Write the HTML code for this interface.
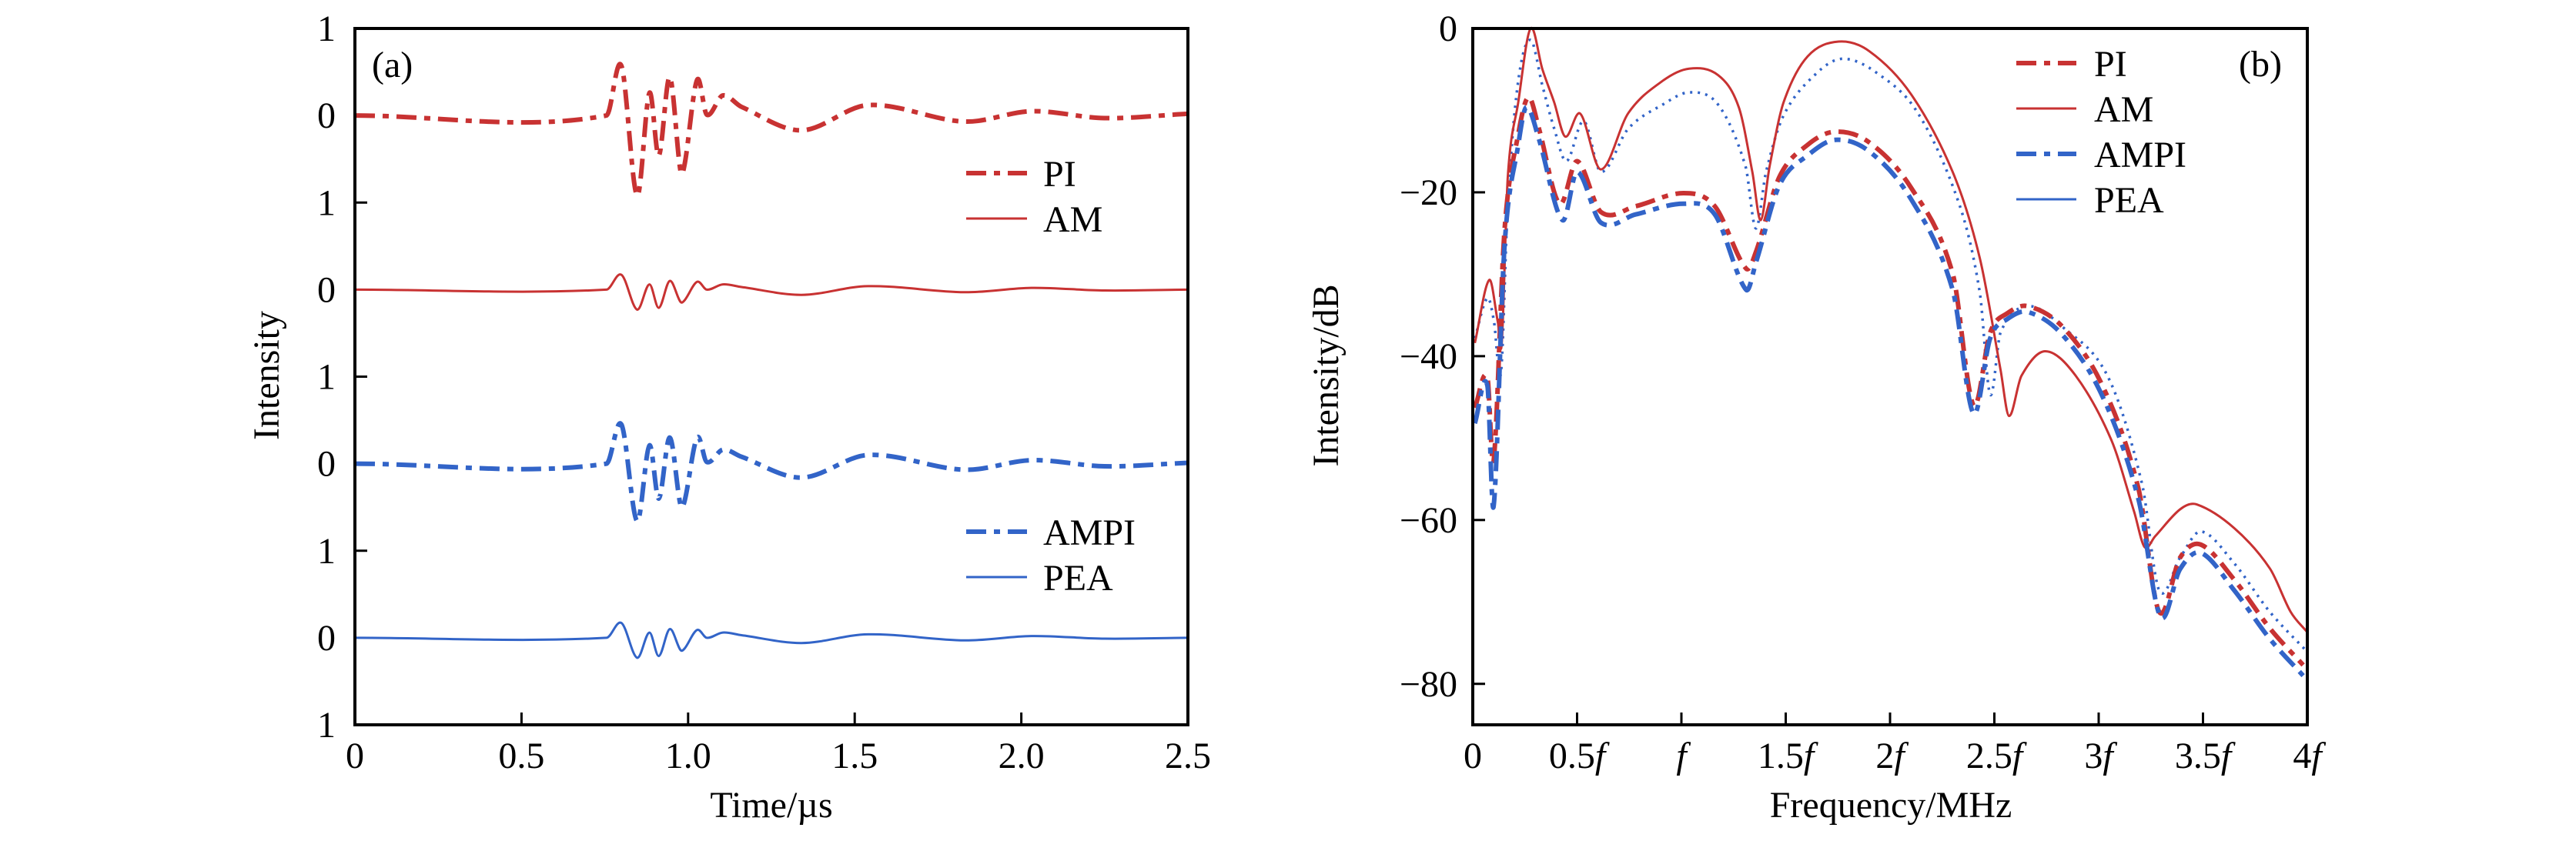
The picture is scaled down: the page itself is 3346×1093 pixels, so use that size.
<!DOCTYPE html>
<html><head><meta charset="utf-8"><style>
html,body{margin:0;padding:0;background:#fff}
svg{display:block}
text{font-family:"Liberation Serif",serif;fill:#000}
</style></head><body>
<svg id="fig" width="3346" height="1093" viewBox="0 0 3346 1093" xmlns="http://www.w3.org/2000/svg"></svg>
<script>
// ---- Panel (a) data: time (µs) and intensities (units of one tick interval)
const timeA = [0,0.755,0.80,0.847,0.884,0.912,0.945,0.977,0.99,1.027,1.056,1.104,1.16,1.34,1.54,1.83,2.03,2.25,2.5];
const piA   = [0,0,0.57,-0.92,0.26,-0.46,0.44,-0.63,-0.55,0.41,0.01,0.23,0.10,-0.17,0.12,-0.07,0.05,-0.03,0.02];
const amA   = [0,0,0.17,-0.23,0.06,-0.21,0.10,-0.14,-0.12,0.09,0.0,0.06,0.03,-0.06,0.04,-0.03,0.02,-0.01,0.0];
const ampiA = [0,0,0.45,-0.66,0.21,-0.40,0.30,-0.47,-0.42,0.30,0.02,0.16,0.08,-0.16,0.10,-0.07,0.04,-0.03,0.01];
const peaA  = [0,0,0.17,-0.23,0.06,-0.21,0.10,-0.14,-0.12,0.09,0.0,0.06,0.03,-0.06,0.04,-0.03,0.02,-0.01,0.0];
const yTickLabelsA = ["1","0","1","0","1","0","1","0","1"];
const xTicksA = [0,0.5,1.0,1.5,2.0,2.5];
const xTickLabelsA = ["0","0.5","1.0","1.5","2.0","2.5"];
// ---- Panel (b) data: frequency (units of f) and dB
const amF = [0.01,0.079,0.12,0.139,0.168,0.218,0.277,0.334,0.39,0.443,0.515,0.614,0.746,0.91,1.037,1.176,1.275,1.34,1.38,1.423,1.49,1.605,1.754,1.902,2.1,2.3,2.43,2.53,2.57,2.63,2.744,2.89,3.06,3.17,3.22,3.27,3.39,3.47,3.65,3.82,3.92,4.0];
const amDB = [-38.4,-30.7,-35.8,-38.4,-18.1,-9,0,-5,-9,-13.2,-10.4,-17.2,-10.3,-6.4,-4.9,-5.7,-9.6,-17.5,-23.4,-16.8,-9,-3.4,-1.6,-2.8,-8,-17.5,-28,-41.7,-47.3,-42.4,-39.4,-42.4,-50.2,-59,-63.3,-62,-58.7,-58.1,-61,-65.9,-71.2,-73.7];
const piF = [0.01,0.07,0.10,0.152,0.218,0.267,0.317,0.416,0.5,0.614,0.78,1.01,1.16,1.31,1.357,1.47,1.605,1.737,1.9,2.1,2.3,2.4,2.48,2.56,2.66,2.83,3.02,3.19,3.29,3.39,3.49,3.65,3.82,3.98];
const piDB = [-46.3,-42.6,-52.8,-24.7,-12.9,-8.4,-12.2,-21.4,-16.2,-22.4,-21.7,-20.1,-21.7,-29.3,-27.3,-18.1,-14.2,-12.6,-13.9,-19.4,-29.9,-46,-37.1,-34.8,-33.9,-36.5,-43.7,-56.1,-71.2,-64.6,-63,-67.3,-73.2,-77.7];
const ampiF = [0.01,0.07,0.10,0.152,0.218,0.257,0.317,0.43,0.5,0.614,0.78,1.01,1.16,1.31,1.357,1.47,1.605,1.737,1.9,2.1,2.3,2.4,2.48,2.56,2.66,2.83,3.02,3.19,3.296,3.39,3.49,3.65,3.82,3.98];
const ampiDB = [-48.2,-43.6,-58.3,-26.6,-14.2,-9.6,-13.5,-23.4,-17.5,-23.7,-22.7,-21.4,-22.7,-31.9,-28.6,-19.1,-15.5,-13.6,-15,-20.8,-31.9,-47,-37.8,-35.5,-34.6,-37.5,-45,-57.4,-71.8,-66,-64,-68.6,-74.5,-79];
const peaF = [0.01,0.07,0.102,0.135,0.168,0.218,0.277,0.334,0.39,0.449,0.532,0.614,0.746,0.91,1.04,1.176,1.307,1.357,1.406,1.49,1.638,1.77,1.935,2.133,2.331,2.43,2.48,2.53,2.66,2.83,3.042,3.207,3.29,3.39,3.49,3.65,3.82,4.0];
const peaDB = [-37.8,-32.9,-35.8,-42,-21.4,-6.4,-1.4,-7,-12.2,-16.2,-11.3,-17.5,-12.2,-9.3,-7.8,-9.3,-16.8,-24.4,-17.5,-10.6,-5.7,-3.7,-5.4,-10.3,-21.4,-32.2,-44.7,-37.1,-33.9,-36.5,-42.4,-55.5,-68.6,-64.6,-61.4,-65.3,-71.2,-76.1];
const yTicksB = [0,-20,-40,-60,-80];
const yTickLabelsB = ["0","\u221220","\u221240","\u221260","\u221280"];
const xTicksB = [0,0.5,1,1.5,2,2.5,3,3.5,4];
const xTickLabelsB = ["0","0.5<i>f</i>","<i>f</i>","1.5<i>f</i>","2<i>f</i>","2.5<i>f</i>","3<i>f</i>","3.5<i>f</i>","4<i>f</i>"];

const NS="http://www.w3.org/2000/svg";
const svg=document.getElementById('fig');
const RED="#c83232", BLUE="#3264c8";
function mk(tag,attrs,parent){const e=document.createElementNS(NS,tag);for(const k in attrs)e.setAttribute(k,attrs[k]);(parent||svg).appendChild(e);return e;}
function smooth(pts){let d="M"+pts[0][0].toFixed(1)+","+pts[0][1].toFixed(1);
 for(let i=0;i<pts.length-1;i++){const p0=pts[Math.max(0,i-1)],p1=pts[i],p2=pts[i+1],p3=pts[Math.min(pts.length-1,i+2)];
  const dx=p2[0]-p1[0];
  let s1=(p2[1]-p0[1])/Math.max(1e-6,p2[0]-p0[0]), s2=(p3[1]-p1[1])/Math.max(1e-6,p3[0]-p1[0]);
  const c1=[p1[0]+dx/3,p1[1]+s1*dx/3],c2=[p2[0]-dx/3,p2[1]-s2*dx/3];
  d+=" C"+c1[0].toFixed(1)+","+c1[1].toFixed(1)+" "+c2[0].toFixed(1)+","+c2[1].toFixed(1)+" "+p2[0].toFixed(1)+","+p2[1].toFixed(1);}
 return d;}
const DASHDOT="26 10 8 10";

// ---------- Panel A ----------
const A={x0:461,x1:1543,y0:37,y1:942};
const xA=t=>A.x0+(t/2.5)*(A.x1-A.x0);
const stepA=(A.y1-A.y0)/8;
const yA=(base,v)=>A.y0+base*stepA-v*stepA;
const gA=mk('g',{});


const seriesA=[[piA,1,RED,6,DASHDOT,'pi-trace'],[amA,3,RED,3,'', 'am-trace'],[ampiA,5,BLUE,6,DASHDOT,'ampi-trace'],[peaA,7,BLUE,3,'','pea-trace']];
seriesA.forEach(s=>{const pts=timeA.map((t,i)=>[xA(t),yA(s[1],s[0][i])]);
 const p=mk('path',{d:smooth(pts),fill:'none',stroke:s[2],'stroke-width':s[3],'stroke-dasharray':s[4]||'none'},gA);
 
 });
mk('rect',{x:A.x0,y:A.y0,width:A.x1-A.x0,height:A.y1-A.y0,fill:'none',stroke:'#000','stroke-width':4},gA);
yTickLabelsA.forEach((l,i)=>{const y=A.y0+i*stepA;
 if(l==="1"&&i>0&&i<8) mk('line',{x1:A.x0,x2:A.x0+16,y1:y,y2:y,stroke:'#000','stroke-width':3},gA);
 const t=mk('text',{x:436,y:y+16,'font-size':48,'text-anchor':'end'},gA);t.textContent=l;
 
 });
xTicksA.forEach((v,i)=>{const x=xA(v);
 if(i>0&&i<xTicksA.length-1) mk('line',{x1:x,x2:x,y1:A.y1,y2:A.y1-16,stroke:'#000','stroke-width':3},gA);
 const t=mk('text',{x:x,y:998,'font-size':48,'text-anchor':'middle'},gA);t.textContent=xTickLabelsA[i];
 
 });
// legend a
[[225,'PI',RED,6,DASHDOT],[284,'AM',RED,3,''],[691,'AMPI',BLUE,6,DASHDOT],[750,'PEA',BLUE,3,'']].forEach(e=>{
 const g=mk('g',{},gA);
 
 
 mk('line',{x1:1255,x2:1334,y1:e[0],y2:e[0],stroke:e[2],'stroke-width':e[3],'stroke-dasharray':e[4]||'none'},g);
 const t=mk('text',{x:1355,y:e[0]+17,'font-size':48},g);t.textContent=e[1];});
let t=mk('text',{x:483,y:100,'font-size':48},gA);t.textContent='(a)';


t=mk('text',{x:0,y:0,'font-size':48,'text-anchor':'middle',transform:'translate(362,488) rotate(-90)'},gA);t.textContent='Intensity';


t=mk('text',{x:1002,y:1062,'font-size':48,'text-anchor':'middle'},gA);t.textContent='Time/\u00b5s';



// ---------- Panel B ----------
const B={x0:1913,x1:2997,y0:37,y1:942};
const xB=f=>B.x0+(f/4)*(B.x1-B.x0);
const yB=d=>B.y0+(-d/85)*(B.y1-B.y0);
const gB=mk('g',{});


const clip=mk('clipPath',{id:'cb'},gB);mk('rect',{x:B.x0,y:B.y0-4,width:B.x1-B.x0,height:B.y1-B.y0+4},clip);
const seriesB=[[peaF,peaDB,BLUE,3.5,'3 7','pea-spectrum'],[amF,amDB,RED,3,'','am-spectrum'],[piF,piDB,RED,6,DASHDOT,'pi-spectrum'],[ampiF,ampiDB,BLUE,6,DASHDOT,'ampi-spectrum']];
seriesB.forEach(s=>{const pts=s[0].map((f,i)=>[xB(f),yB(s[1][i])]);
 const p=mk('path',{d:smooth(pts),fill:'none',stroke:s[2],'stroke-width':s[3],'stroke-dasharray':s[4]||'none','clip-path':'url(#cb)'},gB);
 
 });
mk('rect',{x:B.x0,y:B.y0,width:B.x1-B.x0,height:B.y1-B.y0,fill:'none',stroke:'#000','stroke-width':4},gB);
yTicksB.forEach((v,i)=>{const y=yB(v);
 if(i>0) mk('line',{x1:B.x0,x2:B.x0+16,y1:y,y2:y,stroke:'#000','stroke-width':3},gB);
 const t=mk('text',{x:1893,y:y+16,'font-size':48,'text-anchor':'end'},gB);t.textContent=yTickLabelsB[i];
 
 });
xTicksB.forEach((v,i)=>{const x=xB(v);
 if(i>0&&i<xTicksB.length-1) mk('line',{x1:x,x2:x,y1:B.y1,y2:B.y1-16,stroke:'#000','stroke-width':3},gB);
 const t=mk('text',{x:x,y:998,'font-size':48,'text-anchor':'middle'},gB);t.innerHTML=xTickLabelsB[i].replace(/<i>f<\/i>/g,'<tspan font-style="italic">f</tspan>');
 
 });
[[82,'PI',RED,6,DASHDOT],[141,'AM',RED,3,''],[200,'AMPI',BLUE,6,DASHDOT],[259,'PEA',BLUE,3,'']].forEach(e=>{
 const g=mk('g',{},gB);
 
 
 mk('line',{x1:2619,x2:2697,y1:e[0],y2:e[0],stroke:e[2],'stroke-width':e[3],'stroke-dasharray':e[4]||'none'},g);
 const t=mk('text',{x:2720,y:e[0]+17,'font-size':48},g);t.textContent=e[1];});
t=mk('text',{x:2908,y:99,'font-size':48},gB);t.textContent='(b)';


t=mk('text',{x:0,y:0,'font-size':48,'text-anchor':'middle',transform:'translate(1738,488) rotate(-90)'},gB);t.textContent='Intensity/dB';


t=mk('text',{x:2456,y:1062,'font-size':48,'text-anchor':'middle'},gB);t.textContent='Frequency/MHz';


</script>
</body></html>
